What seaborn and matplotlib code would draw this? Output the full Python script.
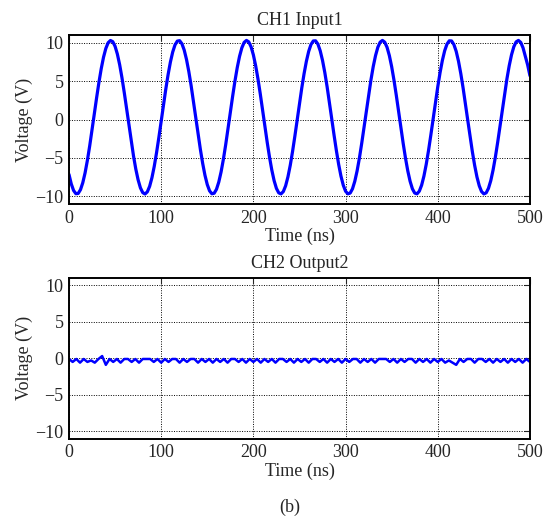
import numpy as np
import pandas as pd
import matplotlib
matplotlib.use("Agg")
import matplotlib.pyplot as plt
import seaborn as sns

t_in = np.arange(0, 501, 2.5)
v_in = [-7.14, -8.39, -9.24, -9.66, -9.63, -9.14, -8.23, -6.94, -5.31, -3.43,
        -1.39, 0.74, 2.84, 4.83, 6.62, 8.12, 9.26, 10.00, 10.29, 10.14,
        9.54, 8.52, 7.13, 5.43, 3.49, 1.41, -0.71, -2.80, -4.74, -6.46,
        -7.86, -8.90, -9.52, -9.70, -9.42, -8.70, -7.58, -6.10, -4.32, -2.34,
        -0.24, 1.89, 3.94, 5.83, 7.47, 8.78, 9.71, 10.21, 10.27, 9.87,
        9.04, 7.81, 6.24, 4.41, 2.38, 0.27, -1.85, -3.87, -5.70, -7.26,
        -8.47, -9.29, -9.67, -9.60, -9.09, -8.14, -6.82, -5.17, -3.27, -1.22,
        0.91, 3.01, 4.99, 6.75, 8.22, 9.33, 10.04, 10.30, 10.11, 9.47,
        8.42, 7.00, 5.28, 3.33, 1.24, -0.88, -2.96, -4.89, -6.58, -7.96,
        -8.97, -9.55, -9.69, -9.38, -8.63, -7.47, -5.97, -4.17, -2.18, -0.07,
        2.05, 4.10, 5.97, 7.58, 8.87, 9.77, 10.23, 10.25, 9.82, 8.95,
        7.70, 6.11, 4.25, 2.21, 0.09, -2.02, -4.02, -5.84, -7.37, -8.55,
        -9.34, -9.68, -9.58, -9.03, -8.05, -6.70, -5.03, -3.11, -1.05, 1.08,
        3.17, 5.14, 6.89, 8.32, 9.41, 10.07, 10.30, 10.07, 9.40, 8.32,
        6.88, 5.13, 3.17, 1.07, -1.05, -3.12, -5.03, -6.70, -8.05, -9.03,
        -9.58, -9.68, -9.33, -8.55, -7.36, -5.83, -4.02, -2.01, 0.10, 2.22,
        4.26, 6.11, 7.70, 8.96, 9.82, 10.25, 10.23, 9.76, 8.87, 7.58,
        5.96, 4.09, 2.05, -0.08, -2.18, -4.18, -5.97, -7.48, -8.63, -9.38,
        -9.69, -9.55, -8.96, -7.96, -6.57, -4.88, -2.95, -0.88, 1.25, 3.34,
        5.29, 7.01, 8.43, 9.48, 10.11, 10.30, 10.04, 9.33, 8.22, 7.10,
        5.70]

# CH2 output, sampled every 4 ns
t_out = np.arange(0, 501, 4)
v_out = [-0.1, -0.5, -0.1, -0.6, -0.1, -0.5, -0.3, -0.6, -0.1, 0.3,
         -0.9, -0.1, -0.5, -0.1, -0.6, -0.1, -0.1, -0.5, -0.1, -0.6,
         -0.1, -0.1, -0.1, -0.5, -0.1, -0.6, -0.1, -0.5, -0.1, -0.1,
         -0.6, -0.1, -0.5, -0.1, -0.1, -0.6, -0.1, -0.5, -0.1, -0.6,
         -0.1, -0.5, -0.1, -0.6, -0.1, -0.1, -0.5, -0.1, -0.6, -0.1,
         -0.5, -0.1, -0.6, -0.1, -0.5, -0.1, -0.6, -0.1, -0.1, -0.5,
         -0.1, -0.6, -0.1, -0.5, -0.1, -0.6, -0.1, -0.1, -0.5, -0.1,
         -0.6, -0.1, -0.5, -0.1, -0.6, -0.1, -0.5, -0.1, -0.1, -0.6,
         -0.1, -0.5, -0.1, -0.6, -0.1, -0.1, -0.1, -0.5, -0.1, -0.6,
         -0.1, -0.5, -0.1, -0.1, -0.6, -0.1, -0.5, -0.1, -0.6, -0.1,
         -0.5, -0.1, -0.6, -0.3, -0.6, -0.9, -0.1, -0.5, -0.1, -0.1,
         -0.6, -0.1, -0.1, -0.5, -0.1, -0.6, -0.1, -0.5, -0.1, -0.6,
         -0.1, -0.5, -0.1, -0.6, -0.1, -0.5]

titles = ["CH1 Input1", "CH2 Output2"]
xticks = [0, 100, 200, 300, 400, 500]
yticks = [-10, -5, 0, 5, 10]

sns.set_style("white")
plt.rcParams["font.family"] = ["Liberation Serif", "DejaVu Serif"]
plt.rcParams["axes.unicode_minus"] = True

fig = plt.figure(figsize=(5.43, 5.23), dpi=100)
ax1 = fig.add_axes([0.127, 0.610, 0.849, 0.323])
ax2 = fig.add_axes([0.127, 0.161, 0.849, 0.308])

df_in = pd.DataFrame({"t": t_in, "v": v_in})
df_out = pd.DataFrame({"t": t_out, "v": v_out})

sns.lineplot(data=df_in, x="t", y="v", ax=ax1, color="#0000ff", linewidth=2.3)
sns.lineplot(data=df_out, x="t", y="v", ax=ax2, color="#0000ff", linewidth=1.8)

for ax, title in zip([ax1, ax2], titles):
    ax.set_xlim(0, 500)
    ax.set_ylim(-11, 11)
    ax.set_xticks(xticks)
    ax.set_yticks(yticks)
    ax.grid(True, color="black", linestyle=(0, (1, 1.5)), linewidth=0.7)
    ax.tick_params(direction="in", length=4, width=0.8, labelsize=13,
                   top=True, right=True, pad=4)
    for s in ax.spines.values():
        s.set_color("black")
        s.set_linewidth(1.4)
    ax.set_title(title, fontsize=13, pad=7)
    ax.set_xlabel("Time (ns)", fontsize=13, labelpad=1)
    ax.set_ylabel("Voltage (V)", fontsize=13, labelpad=2)

fig.text(290 / 543, 1 - 507 / 523, "(b)", fontsize=13, ha="center", va="center")

fig.savefig("out.png", dpi=100)
